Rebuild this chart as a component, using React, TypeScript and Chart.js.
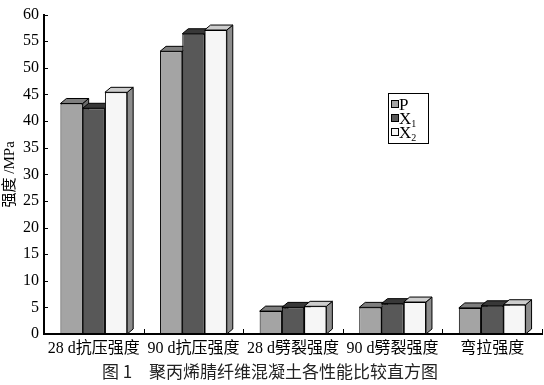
import React, { useEffect, useRef } from 'react';
import { Chart, registerables } from 'chart.js';

Chart.register(...registerables);

const categories = ['28 d抗压强度', '90 d抗压强度', '28 d劈裂强度', '90 d劈裂强度', '弯拉强度'];
const seriesLabels = ['P', 'X1', 'X2'];
const seriesP = [43.3, 53.1, 4.3, 5.0, 4.9];
const seriesX1 = [42.4, 56.4, 5.0, 5.7, 5.3];
const seriesX2 = [45.4, 57.1, 5.2, 6.0, 5.5];
const yMin = 0;
const yMax = 60;
const yStep = 5;
const yTitle = '强度 /MPa';
const caption = '图 1　聚丙烯腈纤维混凝土各性能比较直方图';

const frontColors = ['#a4a4a4', '#585858', '#f6f6f6'];
const topColors = ['#7e7e7e', '#383838', '#cdcdcd'];
const sideColors = ['#6c6c6c', '#2c2c2c', '#8c8c8c'];

const SERIF = '"Liberation Serif", "Noto Sans CJK SC", serif';
const DX = 6;
const DY = 5;

const threeDPlugin = {
  id: 'threeD',
  beforeDatasetsDraw(chart: any) {
    const ctx = chart.ctx;
    ctx.save();
    ctx.lineWidth = 1;
    ctx.strokeStyle = '#000';
    ctx.lineJoin = 'miter';
    chart.data.datasets.forEach((_: any, di: number) => {
      const meta = chart.getDatasetMeta(di);
      meta.data.forEach((el: any) => {
        const { x, y, base, width } = el.getProps(['x', 'y', 'base', 'width'], true);
        const l = x - width / 2;
        const r = x + width / 2;
        ctx.beginPath();
        ctx.moveTo(r, y);
        ctx.lineTo(r + DX, y - DY);
        ctx.lineTo(r + DX, base - DY);
        ctx.lineTo(r, base);
        ctx.closePath();
        ctx.fillStyle = sideColors[di];
        ctx.fill();
        ctx.stroke();
        ctx.beginPath();
        ctx.moveTo(l, y);
        ctx.lineTo(l + DX, y - DY);
        ctx.lineTo(r + DX, y - DY);
        ctx.lineTo(r, y);
        ctx.closePath();
        ctx.fillStyle = topColors[di];
        ctx.fill();
        ctx.stroke();
      });
    });
    ctx.restore();
  },
  afterDraw(chart: any) {
    const ctx = chart.ctx;
    const ys = chart.scales.y;
    const xs = chart.scales.x;
    const area = chart.chartArea;
    ctx.save();
    ctx.strokeStyle = '#000';
    ctx.lineWidth = 1;
    ys.ticks.forEach((t: any) => {
      const py = Math.round(ys.getPixelForValue(t.value)) + 0.5;
      ctx.beginPath();
      ctx.moveTo(area.left, py);
      ctx.lineTo(area.left + 4, py);
      ctx.stroke();
    });
    const n = categories.length;
    for (let i = 1; i <= n; i++) {
      const px = Math.round(xs.left + (i * (xs.right - xs.left)) / n) + 0.5;
      ctx.beginPath();
      ctx.moveTo(px, area.bottom);
      ctx.lineTo(px, area.bottom - 5);
      ctx.stroke();
    }
    // legend
    const lx = 388, ly = 93, lw = 40, lh = 50;
    ctx.fillStyle = '#fff';
    ctx.fillRect(lx, ly, lw, lh);
    ctx.strokeRect(lx + 0.5, ly + 0.5, lw, lh);
    seriesLabels.forEach((lab, i) => {
      const top = ly + 7 + i * 14;
      ctx.fillStyle = frontColors[i];
      ctx.fillRect(lx + 3, top, 7, 7);
      ctx.strokeRect(lx + 3.5, top + 0.5, 7, 7);
      ctx.fillStyle = '#000';
      ctx.textAlign = 'left';
      ctx.textBaseline = 'alphabetic';
      ctx.font = '17px ' + SERIF;
      const main = lab.charAt(0);
      const sub = lab.slice(1);
      ctx.fillText(main, lx + 11, top + 10);
      if (sub) {
        const w = ctx.measureText(main).width;
        ctx.font = '10px ' + SERIF;
        ctx.fillText(sub, lx + 11 + w, top + 13);
      }
    });
    ctx.fillStyle = '#222';
    ctx.font = '17px "Noto Sans CJK SC", sans-serif';
    ctx.textAlign = 'center';
    ctx.textBaseline = 'middle';
    ctx.fillText(caption, 270, 372);
    ctx.restore();
  },
};

export default function App() {
  const ref = useRef<HTMLCanvasElement>(null);
  useEffect(() => {
    document.body.style.margin = '0';
    const values = [seriesP, seriesX1, seriesX2];
    const chart = new Chart(ref.current as HTMLCanvasElement, {
      type: 'bar',
      data: {
        labels: categories,
        datasets: seriesLabels.map((lab, i) => ({
          label: lab,
          data: values[i],
          backgroundColor: frontColors[i],
          borderColor: '#000',
          borderWidth: 1,
          borderSkipped: false,
          categoryPercentage: 0.67,
          barPercentage: 1,
        })),
      },
      options: {
        animation: false,
        responsive: false,
        layout: { padding: { top: 10, right: 2, bottom: 0, left: 0 } },
        plugins: {
          legend: { display: false },
          tooltip: { enabled: false },
          title: { display: false },
        },
        scales: {
          x: {
            grid: { display: false, drawTicks: false },
            border: { display: true, color: '#000', width: 2 },
            ticks: {
              color: '#000',
              font: { family: SERIF, size: 16 },
              padding: 5,
              maxRotation: 0,
              autoSkip: false,
            },
            afterFit: (s: any) => {
              s.height = 51;
            },
          },
          y: {
            min: yMin,
            max: yMax,
            grid: { display: false, drawTicks: false },
            border: { display: true, color: '#000', width: 2 },
            ticks: {
              stepSize: yStep,
              color: '#000',
              font: { family: SERIF, size: 16 },
              padding: 5,
            },
            title: {
              display: true,
              text: yTitle,
              color: '#000',
              font: { family: SERIF, size: 15 },
              padding: { top: 1, bottom: 0 },
            },
            afterFit: (s: any) => {
              s.width = 44;
            },
          },
        },
      },
      plugins: [threeDPlugin],
    } as any);
    return () => chart.destroy();
  }, []);
  return (
    <div style={{ width: 544, height: 385 }}>
      <canvas ref={ref} width={544} height={385} style={{ display: 'block' }} />
    </div>
  );
}
